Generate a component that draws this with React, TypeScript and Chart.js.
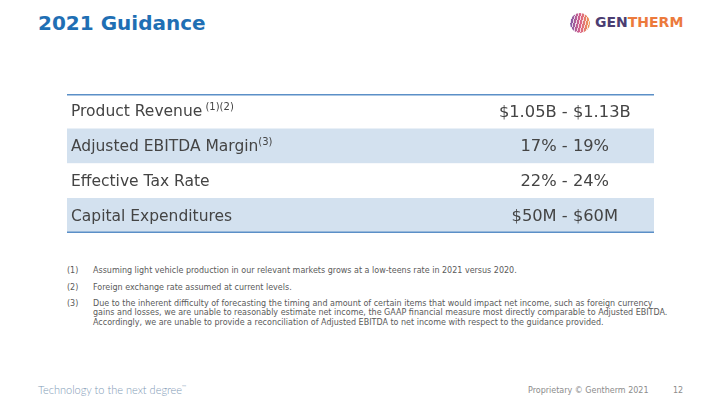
import React, { useEffect, useRef } from "react";
import { Chart, registerables } from "chart.js";
Chart.register(...registerables);

const rowLabels = ["Product Revenue", "Adjusted EBITDA Margin", "Effective Tax Rate", "Capital Expenditures"];
const rowNotes = [" (1)(2)", "(3)", "", ""];
const rowValues = ["$1.05B - $1.13B", "17% - 19%", "22% - 24%", "$50M - $60M"];
const rowFill = [1, 1, 1, 1];
const footnoteNums = ["(1)", "(2)", "(3)"];
const footnoteTexts: string[][] = [
  ["Assuming light vehicle production in our relevant markets grows at a low-teens rate in 2021 versus 2020."],
  ["Foreign exchange rate assumed at current levels."],
  [
    "Due to the inherent difficulty of forecasting the timing and amount of certain items that would impact net income, such as foreign currency",
    "gains and losses, we are unable to reasonably estimate net income, the GAAP financial measure most directly comparable to Adjusted EBITDA.",
    "Accordingly, we are unable to provide a reconciliation of Adjusted EBITDA to net income with respect to the guidance provided.",
  ],
];

const FONT = '"DejaVu Sans", Verdana, sans-serif';

const tablePlugin = {
  id: "tableText",
  afterDatasetsDraw(chart: any) {
    const { ctx, chartArea, scales } = chart;
    const xs = scales.x;
    const ys = scales.y;
    ctx.save();
    ctx.fillStyle = "#444444";
    ctx.textBaseline = "middle";
    rowLabels.forEach((lab, i) => {
      const py = ys.getPixelForValue(i) + 1;
      ctx.font = `15.5px ${FONT}`;
      ctx.textAlign = "left";
      const lx = chartArea.left + 4;
      ctx.fillText(lab, lx, py);
      const w = ctx.measureText(lab).width;
      if (rowNotes[i]) {
        ctx.font = `10px ${FONT}`;
        ctx.fillText(rowNotes[i], lx + w, py - 5);
      }
      ctx.font = `16.3px ${FONT}`;
      ctx.textAlign = "center";
      ctx.fillText(rowValues[i], xs.getPixelForValue(0.848), py);
    });
    ctx.strokeStyle = "#5b8fc7";
    ctx.lineWidth = 1.5;
    ctx.beginPath();
    ctx.moveTo(chartArea.left, chartArea.top + 0.75);
    ctx.lineTo(chartArea.right, chartArea.top + 0.75);
    ctx.moveTo(chartArea.left, chartArea.bottom - 0.75);
    ctx.lineTo(chartArea.right, chartArea.bottom - 0.75);
    ctx.stroke();
    ctx.restore();
  },
};

function GuidanceTable() {
  const ref = useRef<HTMLCanvasElement | null>(null);
  useEffect(() => {
    if (!ref.current) return;
    const chart = new Chart(ref.current, {
      type: "bar",
      data: {
        labels: rowLabels,
        datasets: [
          {
            data: rowFill,
            backgroundColor: rowLabels.map((_, i) => (i % 2 === 1 ? "#d3e1ef" : "#ffffff")),
            borderWidth: 0,
            barPercentage: 1,
            categoryPercentage: 1,
          },
        ],
      },
      options: {
        indexAxis: "y",
        animation: false,
        responsive: false,
        maintainAspectRatio: false,
        layout: { padding: 0 },
        plugins: { legend: { display: false }, tooltip: { enabled: false } },
        scales: {
          x: { min: 0, max: 1, display: false },
          y: { display: false, offset: true },
        },
      },
      plugins: [tablePlugin],
    });
    return () => chart.destroy();
  }, []);
  return (
    <canvas
      ref={ref}
      width={587}
      height={139}
      style={{ position: "absolute", left: 67, top: 94, width: 587, height: 139 }}
    />
  );
}

export default function App() {
  return (
    <div
      style={{
        position: "absolute",
        left: 0,
        top: 0,
        width: 720,
        height: 405,
        background: "#ffffff",
        overflow: "hidden",
        fontFamily: FONT,
      }}
    >
      <div
        style={{
          position: "absolute",
          left: 38,
          top: 11,
          fontSize: 20,
          fontWeight: "bold",
          color: "#1f6fb4",
          whiteSpace: "nowrap",
        }}
      >
        2021 Guidance
      </div>
      <div
        style={{
          position: "absolute",
          left: 570,
          top: 13,
          width: 20,
          height: 20,
          borderRadius: "50%",
          background:
            "repeating-linear-gradient(105deg, rgba(255,255,255,0) 0px, rgba(255,255,255,0) 2px, rgba(255,255,255,0.75) 2px, rgba(255,255,255,0.75) 3px), linear-gradient(90deg, #7b5aa8, #d8608a, #f29a4e)",
        }}
      />
      <div
        style={{
          position: "absolute",
          left: 595,
          top: 14,
          fontSize: 14,
          fontWeight: "bold",
          whiteSpace: "nowrap",
        }}
      >
        <span style={{ color: "#4b3d72" }}>GEN</span>
        <span style={{ color: "#ec7a3c" }}>THERM</span>
      </div>
      <GuidanceTable />
      {footnoteNums.map((n, i) => (
        <div
          key={n}
          style={{
            position: "absolute",
            left: 67,
            top: [266, 283, 299][i],
            fontSize: 8,
            lineHeight: "9.3px",
            color: "#5a5a5a",
            whiteSpace: "nowrap",
          }}
        >
          <span style={{ position: "absolute", left: 0 }}>{n}</span>
          <div style={{ position: "absolute", left: 26 }}>
            {footnoteTexts[i].map((t, j) => (
              <div key={j}>{t}</div>
            ))}
          </div>
        </div>
      ))}
      <div
        style={{
          position: "absolute",
          left: 38,
          top: 383,
          fontSize: 11,
          fontFamily: "Lato, sans-serif",
          fontWeight: 300,
          color: "#7f9ab6",
          whiteSpace: "nowrap",
        }}
      >
        Technology to the next degree<sup style={{ fontSize: 6 }}>™</sup>
      </div>
      <div
        style={{
          position: "absolute",
          left: 528,
          top: 386,
          fontSize: 8,
          color: "#8c8c8c",
          whiteSpace: "nowrap",
        }}
      >
        Proprietary © Gentherm 2021
      </div>
      <div
        style={{
          position: "absolute",
          left: 673,
          top: 386,
          fontSize: 8,
          color: "#8c8c8c",
        }}
      >
        12
      </div>
    </div>
  );
}
